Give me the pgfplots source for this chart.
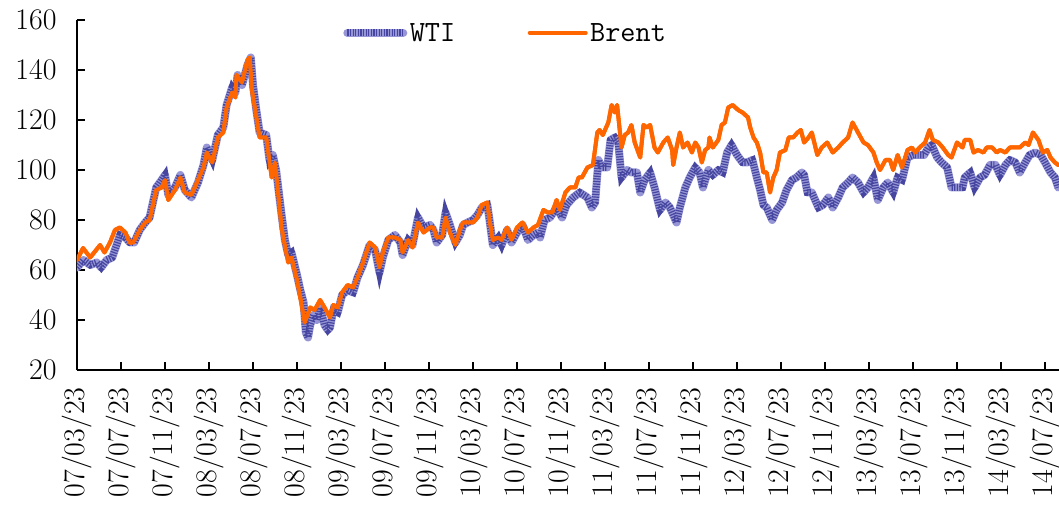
\documentclass[border=0pt]{standalone}
\usepackage{pgfplots}
\pgfplotsset{compat=1.18}
\definecolor{wtilight}{RGB}{150,150,214}
\definecolor{wtidark}{RGB}{70,70,160}
\definecolor{brent}{RGB}{255,102,0}
\pgfplotstableread{
m v
0 61
0.6 64
1.2 62
1.8 63
2.2 61
2.7 64
3.2 65
3.6 70
3.9 74
4.4 73
4.8 71
5.2 71
5.7 76
6.2 79
6.6 81
7.2 93
7.7 96
8 98
8.3 90
8.9 93
9.4 98
9.8 92
10.4 89
11 95
11.5 102
11.8 109
12.3 104
12.8 114
13.3 117
13.6 126
14.1 133
14.4 131
14.6 138
15 134
15.5 142
15.8 145
16 134
16.3 124
16.6 115
17.2 114
17.5 104
17.8 106
18.1 100
18.6 82
18.9 72
19.2 66
19.5 67
20 58
20.3 52
20.6 47
20.8 35
21 33
21.2 38
21.5 42
21.8 40
22.1 45
22.5 38
22.8 36
23 37
23.3 44
23.7 43
24.1 50
24.6 52
25.1 51
25.5 57
26 62
26.6 70
27.1 68
27.5 59
27.8 65
28.3 72
28.9 74
29.4 71
29.6 66
30.1 72
30.5 70
31 81
31.5 77
32.1 78
32.4 76
32.7 71
33.2 74
33.5 83
33.9 78
34.4 71
34.8 74
35.1 78
35.5 79
36 80
36.4 82
36.8 85
37.3 86
37.5 80
37.8 70
38.3 73
38.6 70
39.1 76
39.5 71
40 75
40.5 78
41 72
41.5 74
41.9 75
42.1 73
42.5 80
43 81
43.6 85
44.1 81
44.5 86
45.1 89
45.7 91
46.4 89
46.8 85
47.1 87
47.4 104
47.7 101
48.2 101
48.5 112
48.9 113
49.2 111
49.5 97
50 100
50.4 99
50.9 99
51.2 91
51.6 96
52.1 99
52.5 93
53 84
53.5 87
53.9 85
54.5 79
54.8 85
55.3 93
55.7 97
56.2 101
56.6 99
56.9 93
57.4 100
57.8 98
58.3 100
58.7 99
59.1 107
59.5 110
60 106
60.5 103
60.9 103
61.4 104
61.8 97
62.1 92
62.4 86
62.7 85
63.2 80
63.6 84
64.1 87
64.5 92
65 96
65.4 97
65.9 99
66.1 98
66.4 91
66.8 91
67.1 88
67.4 85
67.8 86
68.3 89
68.7 85
69.2 89
69.6 93
70.1 95
70.5 97
71 95
71.5 91
71.9 93
72.4 97
72.8 88
73.3 93
73.7 95
74.2 91
74.6 97
75 96
75.5 105
76 106
76.5 106
77 106
77.4 109
77.7 110
78.2 105
78.6 103
79.1 101
79.5 93
80 93
80.5 93
80.7 97
81.2 99
81.6 93
82.1 97
82.5 98
83 102
83.5 102
83.9 98
84.4 102
84.8 104
85.3 103
85.7 99
86.2 103
86.6 106
87.1 107
87.6 106
88 103
88.5 99
88.9 97
89.2 93
}\wtidata
\pgfplotstableread{
m v
0 64
0.55 68.8
1.2 65
2.1 70
2.5 67
3 71
3.45 76
3.9 77
4.4 75
4.8 70.8
5.1 71
5.7 76
6.2 79
6.6 80
7.2 92
7.7 93
8 96
8.3 88
8.9 92
9.4 97
9.8 91
10.4 90
11 96
11.5 101
11.8 107
12.3 103
12.8 113
13.3 115
13.6 125
14.1 131
14.4 129
14.5 138
15 135
15.5 144
15.7 145
15.9 132
16.2 124
16.6 113
17.2 113
17.7 97
18 103
18.6 77
18.8 72
19.2 63
19.5 65
20 56
20.3 49
20.7 39
21.2 45
21.6 44
22.1 48
22.5 45
23 41
23.3 46
23.7 45
24.1 51
24.6 54
25.1 53
25.5 57
26 63
26.6 71
27.1 69
27.5 61
27.8 67
28.3 73
28.9 73
29.4 72
29.6 67
30.1 72
30.5 69
31 79
31.5 75
32.1 77
32.4 77
32.7 73
33.2 73
33.5 81
33.9 75
34.4 70
34.8 76
35.1 79
35.5 79
36 79
36.4 81
36.8 86
37.3 87
37.5 80
37.8 72
38.3 73
38.6 72
39.1 77
39.5 72
40 77
40.5 79
41 75
41.5 77
41.9 78
42.4 84
42.8 83
43.2 83
43.6 88
43.9 84
44.4 91
44.8 93
45.3 93
45.6 97
45.9 97
46.4 101
46.9 102
47.3 115
47.5 116
47.8 114
48.3 119
48.6 126
48.9 123
49.1 126
49.5 109
49.8 114
50.1 115
50.4 118
50.7 111
51.2 105
51.5 118
51.8 117
52.1 118
52.5 109
52.8 107
53.3 111
53.7 113
54.1 108
54.2 102
54.5 109
54.8 115
55.1 109
55.5 111
55.9 107
56.2 111
56.5 109
56.8 103
57.1 108
57.4 109
57.5 113
57.8 109
58.3 112
58.6 118
58.9 119
59.2 125
59.6 126
60.1 124
60.5 123
61 121
61.2 117
61.5 113
61.8 111
62.1 107
62.4 99
62.7 99
63 91
63.3 97
63.6 100
63.9 107
64.4 108
64.7 113
65.1 113
65.5 115
65.8 116
66.1 111
66.5 113
66.8 115
67.3 106
67.7 109
68.2 111
68.7 107
69.2 109
69.6 111
70.1 113
70.5 119
71 115
71.5 111
71.9 110
72.4 107
72.7 103
73 100
73.5 104
73.9 104
74.2 100
74.6 106
75 101
75.5 108
75.9 109
76.2 107
76.6 109
77.1 111
77.5 116
77.8 112
78.3 111
78.7 109
79.2 106
79.5 105
80 111
80.5 109
80.7 112
81.2 112
81.5 107
81.9 108
82.4 107
82.7 109
83.2 109
83.6 107
83.9 108
84.4 107
84.8 109
85.3 109
85.7 109
86.2 111
86.5 110
86.9 115
87.4 112
87.8 107
88.2 108
88.5 105
88.9 103
89.2 102
}\brentdata
\begin{document}
\begin{tikzpicture}
\begin{axis}[
  at={(0,0)}, anchor=south west,
  scale only axis, width=982bp, height=350bp,
  xmin=0, xmax=89.27, ymin=20, ymax=160,
  ytick={20,40,60,80,100,120,140,160},
  yticklabels={20,40,60,80,100,120,140,160},
  xtick={0,4,...,88},
  xticklabels={07/03/23,07/07/23,07/11/23,08/03/23,08/07/23,08/11/23,09/03/23,09/07/23,09/11/23,10/03/23,10/07/23,10/11/23,11/03/23,11/07/23,11/11/23,12/03/23,12/07/23,12/11/23,13/03/23,13/07/23,13/11/23,14/03/23,14/07/23},
  axis lines=left,
  axis line style={-, line width=2.5bp, black},
  tick align=inside,
  major tick length=8bp,
  tick style={line width=1.5bp, black},
  tick label style={font=\fontsize{30}{34}\selectfont},
  xticklabel style={rotate=90, anchor=east},
  xticklabel shift=14bp,
  yticklabel shift=17bp,
  legend columns=2,
  legend style={at={(0.271,0.963)}, anchor=west, draw=none, fill=none, inner sep=0pt,
    font=\fontsize{29.5}{33}\selectfont\ttfamily,
    nodes={inner sep=2.5bp},
    /tikz/every odd column/.append style={column sep=0bp},
    /tikz/every even column/.append style={column sep=70bp}},
  legend image code/.code={\draw[#1] (0bp,0bp) -- (56bp,0bp);},
]
\addplot[wtilight, line width=8bp, line join=round, line cap=round,
  legend image code/.code={
    \draw[wtilight, line width=8bp, line cap=round] (0bp,0bp) -- (56bp,0bp);
    \draw[wtidark, line width=7bp, line cap=butt, dash pattern=on 1.2bp off 1.4bp] (0bp,0bp) -- (56bp,0bp);}]
  table[x=m,y=v] {\wtidata};
\addlegendentry{WTI}
\addplot[brent, line width=4bp, line join=round, line cap=round] table[x=m,y=v] {\brentdata};
\addlegendentry{Brent}
\addplot[wtidark, line width=7bp, line cap=butt, dash pattern=on 1.2bp off 1.4bp, forget plot] table[x=m,y=v] {\wtidata};
\addplot[brent, line width=4bp, line join=round, line cap=round, forget plot] table[x=m,y=v] {\brentdata};
\end{axis}
\pgfresetboundingbox
\path[use as bounding box] (-77bp,-145bp) rectangle (982bp,370bp);
\end{tikzpicture}
\end{document}
